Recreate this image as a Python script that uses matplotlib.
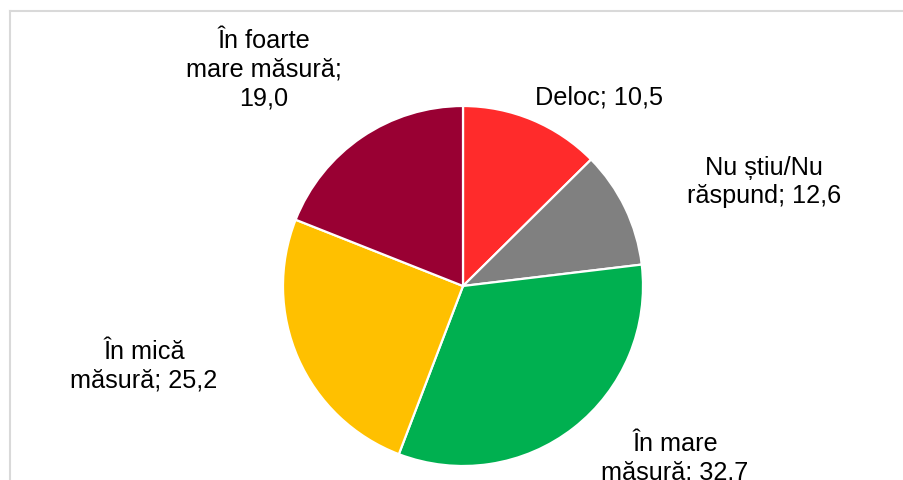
import matplotlib
matplotlib.use("Agg")
import matplotlib.pyplot as plt
from matplotlib.lines import Line2D

plt.rcParams["font.family"] = ["Liberation Sans", "DejaVu Sans"]

# wedge shares as drawn, clockwise from 12 o'clock
categories = ["Deloc", "Nu știu/Nu răspund", "În mare măsură", "În mică măsură", "În foarte mare măsură"]
shares = [12.6, 10.5, 32.7, 25.2, 19.0]
labels = ["Deloc; 10,5", "Nu știu/Nu\nrăspund; 12,6", "În mare\nmăsură; 32.7",
          "În mică\nmăsură; 25,2", "În foarte\nmare măsură;\n19,0"]
colors = ["#FF2B2B", "#808080", "#00B050", "#FFC000", "#990033"]

W, H = 904, 481
fig = plt.figure(figsize=(W / 100, H / 100), dpi=100)
ax = fig.add_axes([0, 0, 1, 1])

ax.pie(shares, colors=colors, startangle=90, counterclock=False,
       center=(463, H - 287), radius=180,
       wedgeprops=dict(edgecolor="white", linewidth=1.6))

# label positions (pixel coords, y from top)
label_pos = [(599, 97), (764, 182), (675, 458), (144, 366), (264, 70)]
for txt, (x, y) in zip(labels, label_pos):
    ax.text(x, H - y, txt, ha="center", va="center", fontsize=18.2,
            linespacing=1.24, color="black")

ax.set_xlim(0, W)
ax.set_ylim(0, H)
ax.set_aspect("equal")
ax.axis("off")

# chart frame (only top and left visible)
fig.add_artist(Line2D([10 / W, 1], [1 - 12 / H, 1 - 12 / H], color="#D9D9D9", lw=1.5))
fig.add_artist(Line2D([10 / W, 10 / W], [0, 1 - 12 / H], color="#D9D9D9", lw=1.5))

fig.savefig("out.png", dpi=100)
